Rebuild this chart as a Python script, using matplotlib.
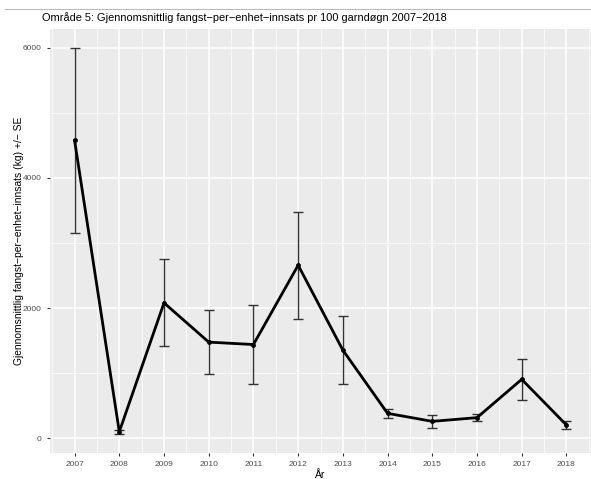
import numpy as np
import matplotlib
matplotlib.use("Agg")
import matplotlib.pyplot as plt
from matplotlib.lines import Line2D
from matplotlib.ticker import MultipleLocator

plt.rcParams["font.family"] = ["Liberation Sans", "DejaVu Sans"]

# Data
years = [2007, 2008, 2009, 2010, 2011, 2012, 2013, 2014, 2015, 2016, 2017, 2018]
mean_cpue = [4575, 100, 2080, 1477, 1440, 2658, 1354, 383, 260, 317, 905, 204]
se_cpue = [1415, 30, 670, 490, 600, 820, 520, 70, 100, 55, 310, 65]
y_ticks = [0, 2000, 4000, 6000]

title = "Område 5: Gjennomsnittlig fangst\u2212per\u2212enhet\u2212innsats pr 100 garndøgn 2007\u22122018"
ylabel = "Gjennomsnittlig fangst\u2212per\u2212enhet\u2212innsats (kg) +/\u2212 SE"
xlabel = "År"

W, H = 591, 479
fig = plt.figure(figsize=(W / 100, H / 100), dpi=100)
ax = fig.add_axes([50 / W, 1 - 453 / H, 1 - 50 / W, (453 - 29) / H])

ax.set_facecolor("#ebebeb")
for s in ax.spines.values():
    s.set_visible(False)

yrs = np.asarray(years)
m = np.asarray(mean_cpue)
se = np.asarray(se_cpue)

ax.errorbar(yrs, m, yerr=se, fmt="none", ecolor="#333333", elinewidth=1.0,
            capsize=3.6, capthick=1.0, zorder=3)
ax.plot(yrs, m, color="black", lw=2.0, zorder=4)
ax.scatter(yrs, m, color="black", s=6, zorder=5)

lo = (m - se).min()
hi = (m + se).max()
pad = 0.05 * (hi - lo)
ax.set_ylim(lo - pad, hi + pad)
ax.set_xlim(yrs.min() - 0.55, yrs.max() + 0.55)

ax.set_xticks(years)
ax.set_xticklabels([str(y) for y in years])
ax.set_yticks(y_ticks)
ax.yaxis.set_minor_locator(MultipleLocator(1000))
ax.xaxis.set_minor_locator(MultipleLocator(0.5))

ax.grid(True, which="major", color="white", lw=1.1, zorder=0)
ax.grid(True, which="minor", color="white", lw=0.5, zorder=0)
ax.set_axisbelow(True)

ax.tick_params(axis="both", which="major", labelsize=6, labelcolor="#4d4d4d",
               color="#333333", length=2.5, width=0.8)
ax.tick_params(axis="both", which="minor", length=0)

ax.set_xlabel(xlabel, fontsize=7.5, labelpad=1)
ax.set_ylabel(ylabel, fontsize=7.4, labelpad=-1)

fig.text(42 / W, 1 - 18 / H, title, fontsize=7.9, ha="left", va="center")
fig.add_artist(Line2D([5 / W, 1], [1 - 9 / H, 1 - 9 / H], color="#bbbbbb", lw=0.8))

fig.savefig("out.png", dpi=100)
